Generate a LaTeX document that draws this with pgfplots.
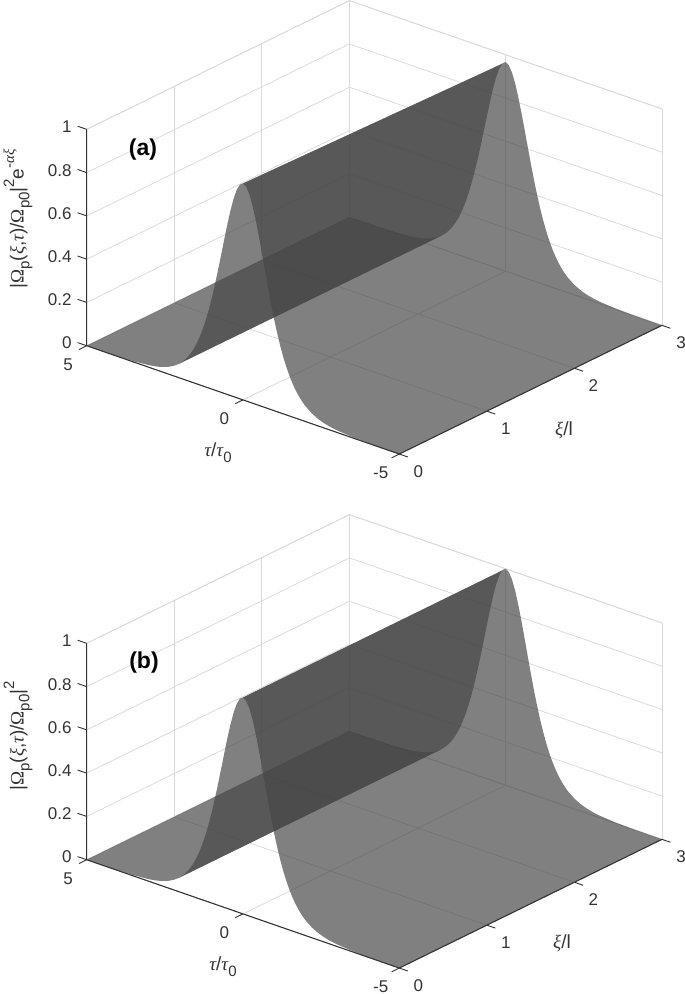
\documentclass[border=0pt]{standalone}
\usepackage{fontspec}
\setmainfont{Liberation Sans}
\newfontfamily\grk{Liberation Serif}
\usepackage{pgfplots}
\pgfplotsset{compat=1.18}
\definecolor{axdark}{gray}{0.2}
\definecolor{gridgr}{gray}{0.86}
\definecolor{surfgr}{gray}{0.274}
\newcommand{\gi}[1]{{\grk\itshape #1}}
\newcommand{\gr}[1]{{\grk #1}}
\newcommand{\dn}[1]{\raisebox{-0.3em}{\fontsize{15}{15}\selectfont #1}}
\newcommand{\up}[1]{\raisebox{0.5em}{\fontsize{15}{15}\selectfont #1}}
\newcommand{\lab}{\fontsize{19}{21}\selectfont}
\pgfplotsset{
  panel/.style={
    x dir=reverse,
    x={(31.26pt,-10.83pt)},y={(87.57pt,42.9pt)},z={(0pt,216.4pt)},
    xmin=-5,xmax=5,ymin=0,ymax=3,zmin=0,zmax=1,
    xtick={-5,0,5},xticklabels={-5,0,5},
    ytick={0,1,2,3},ztick={0,0.2,0.4,0.6,0.8,1},
    zticklabels={0,0.2,0.4,0.6,0.8,1},
    grid=major,major grid style={gridgr,line width=0.8pt},
    axis line style={gridgr,line width=0.8pt},
    tick style={draw=none},
    major tick length=9.5pt,tick align=outside,
    tick pos=left,
    ticklabel style={font=\fontsize{17}{19}\selectfont,text=axdark},
    xticklabel style={anchor=center,xshift=-10pt,yshift=-15pt},
    yticklabel style={anchor=center,xshift=10pt,yshift=-14.5pt},
    zticklabel style={xshift=-3pt,yshift=7.5pt},
    /pgf/number format/assume math mode=true,
    label style={font=\lab,text=axdark},
    clip=false,anchor=origin,
  },
  surfpart/.style={draw=none,fill=surfgr,fill opacity=0.685,no marks,forget plot},
  axline/.style={axdark,line width=1.05pt,no marks,forget plot},
  tickline/.style={axdark,line width=0.9pt,no marks,forget plot,unbounded coords=jump},
}
\begin{document}
\begin{tikzpicture}
\path[use as bounding box] (0pt,0pt) rectangle (685pt,994pt);
% panel (a)
\begin{axis}[panel,at={(243pt,594.1pt)},
  xlabel={\gi{τ}/\gi{τ}\dn{0}},
  ylabel={\gi{ξ}/l},
  zlabel={|\gr{Ω}\dn{p}(\gi{ξ},\gi{τ})/\gr{Ω}\dn{p0}|\up{2}e\up{-\gi{αξ}}},
  xlabel style={at={(axis cs:0,0,0)},anchor=center,xshift=-25pt,yshift=-53pt},
  ylabel style={at={(axis cs:0,0,0)},anchor=center,xshift=321pt,yshift=-30pt},
  zlabel style={at={(axis cs:0,0,0)},anchor=center,xshift=181pt,yshift=225pt},
]
% floor side of the rising edge, up to the fold of the surface
\addplot3[surfpart] coordinates {
(5,0,.00018)(4,0,.00134)(3.5,0,.00364)(3,0,.00987)(2.8,0,.01468)(2.6,0,.02182)(2.4,0,.03238)(2.2,0,.04793)(2.06,0,.06288)
(2.06,3,.06074)(2.2,3,.0463)(2.4,3,.03128)(2.6,3,.02108)(2.8,3,.01418)(3,3,.00953)(3.5,3,.00352)(4,3,.00129)(5,3,.00017)};
% rising edge from the fold to the ridge
\addplot3[surfpart] coordinates {
(2.06,0,.06288)(2,0,.07065)(1.9,0,.08561)
(1.8,0,.10356)(1.7,0,.12501)(1.6,0,.15053)(1.5,0,.18071)(1.4,0,.21615)(1.3,0,.25743)(1.2,0,.30502)(1.1,0,.3592)(1,0,.41997)(.9,0,.48692)
(.8,0,.55905)(.7,0,.63474)(.6,0,.71158)(.5,0,.78645)(.4,0,.85564)(.3,0,.91514)(.2,0,.96104)(.1,0,.99007)(0,0,1)
(0,3,.966)(.1,3,.95641)(.2,3,.92836)(.3,3,.88403)(.4,3,.82655)(.5,3,.75971)(.6,3,.68739)(.7,3,.61316)(.8,3,.54004)(.9,3,.47036)(1,3,.40569)
(1.1,3,.34699)(1.2,3,.29465)(1.3,3,.24868)(1.4,3,.2088)(1.5,3,.17457)(1.6,3,.14541)(1.7,3,.12076)(1.8,3,.10004)(1.9,3,.0827)(2,3,.06825)(2.06,3,.06074)};
% falling edge
\addplot3[surfpart] coordinates {
(-5,0,.00018)(-4,0,.00134)(-3.5,0,.00364)(-3,0,.00987)(-2.8,0,.01468)(-2.6,0,.02182)(-2.4,0,.03238)(-2.2,0,.04793)(-2,0,.07065)(-1.9,0,.08561)
(-1.8,0,.10356)(-1.7,0,.12501)(-1.6,0,.15053)(-1.5,0,.18071)(-1.4,0,.21615)(-1.3,0,.25743)(-1.2,0,.30502)(-1.1,0,.3592)(-1,0,.41997)(-.9,0,.48692)
(-.8,0,.55905)(-.7,0,.63474)(-.6,0,.71158)(-.5,0,.78645)(-.4,0,.85564)(-.3,0,.91514)(-.2,0,.96104)(-.1,0,.99007)(0,0,1)
(0,3,.966)(-.1,3,.95641)(-.2,3,.92836)(-.3,3,.88403)(-.4,3,.82655)(-.5,3,.75971)(-.6,3,.68739)(-.7,3,.61316)(-.8,3,.54004)(-.9,3,.47036)(-1,3,.40569)
(-1.1,3,.34699)(-1.2,3,.29465)(-1.3,3,.24868)(-1.4,3,.2088)(-1.5,3,.17457)(-1.6,3,.14541)(-1.7,3,.12076)(-1.8,3,.10004)(-1.9,3,.0827)(-2,3,.06825)
(-2.2,3,.0463)(-2.4,3,.03128)(-2.6,3,.02108)(-2.8,3,.01418)(-3,3,.00953)(-3.5,3,.00352)(-4,3,.00129)(-5,3,.00017)};
\addplot3[axline] coordinates {(5,0,1)(5,0,0)(-5,0,0)(-5,3,0)};
% tick marks on the three dark axis lines
\addplot3[tickline] coordinates {
(5,0,0)(5.29,0,0)(nan,nan,nan)(5,0,.2)(5.29,0,.2)(nan,nan,nan)(5,0,.4)(5.29,0,.4)(nan,nan,nan)
(5,0,.6)(5.29,0,.6)(nan,nan,nan)(5,0,.8)(5.29,0,.8)(nan,nan,nan)(5,0,1)(5.29,0,1)(nan,nan,nan)
(5,0,0)(5,-.088,0)(nan,nan,nan)(0,0,0)(0,-.088,0)(nan,nan,nan)(-5,0,0)(-5,-.088,0)(nan,nan,nan)
(-5,0,0)(-5.27,0,0)(nan,nan,nan)(-5,1,0)(-5.27,1,0)(nan,nan,nan)(-5,2,0)(-5.27,2,0)(nan,nan,nan)(-5,3,0)(-5.27,3,0)};
\end{axis}
\node[font=\bfseries\fontsize{23}{25}\selectfont] at (143pt,844pt) {(a)};
% panel (b)
\begin{axis}[panel,at={(243pt,80.1pt)},
  xlabel={\gi{τ}/\gi{τ}\dn{0}},
  ylabel={\gi{ξ}/l},
  zlabel={|\gr{Ω}\dn{p}(\gi{ξ},\gi{τ})/\gr{Ω}\dn{p0}|\up{2}},
  xlabel style={at={(axis cs:0,0,0)},anchor=center,xshift=-20pt,yshift=-53pt},
  ylabel style={at={(axis cs:0,0,0)},anchor=center,xshift=319pt,yshift=-29pt},
  zlabel style={at={(axis cs:0,0,0)},anchor=center,xshift=178pt,yshift=225pt},
]
\addplot3[surfpart] coordinates {
(5,0,.00018)(4,0,.00134)(3.5,0,.00364)(3,0,.00987)(2.8,0,.01468)(2.6,0,.02182)(2.4,0,.03238)(2.2,0,.04793)(2.06,0,.06288)
(2.06,3,.06288)(2.2,3,.04793)(2.4,3,.03238)(2.6,3,.02182)(2.8,3,.01468)(3,3,.00987)(3.5,3,.00364)(4,3,.00134)(5,3,.00018)};
\addplot3[surfpart] coordinates {
(2.06,0,.06288)(2,0,.07065)(1.9,0,.08561)
(1.8,0,.10356)(1.7,0,.12501)(1.6,0,.15053)(1.5,0,.18071)(1.4,0,.21615)(1.3,0,.25743)(1.2,0,.30502)(1.1,0,.3592)(1,0,.41997)(.9,0,.48692)
(.8,0,.55905)(.7,0,.63474)(.6,0,.71158)(.5,0,.78645)(.4,0,.85564)(.3,0,.91514)(.2,0,.96104)(.1,0,.99007)(0,0,1)
(0,3,1)(.1,3,.99007)(.2,3,.96104)(.3,3,.91514)(.4,3,.85564)(.5,3,.78645)(.6,3,.71158)(.7,3,.63474)(.8,3,.55905)(.9,3,.48692)(1,3,.41997)
(1.1,3,.3592)(1.2,3,.30502)(1.3,3,.25743)(1.4,3,.21615)(1.5,3,.18071)(1.6,3,.15053)(1.7,3,.12501)(1.8,3,.10356)(1.9,3,.08561)(2,3,.07065)(2.06,3,.06288)};
\addplot3[surfpart] coordinates {
(-5,0,.00018)(-4,0,.00134)(-3.5,0,.00364)(-3,0,.00987)(-2.8,0,.01468)(-2.6,0,.02182)(-2.4,0,.03238)(-2.2,0,.04793)(-2,0,.07065)(-1.9,0,.08561)
(-1.8,0,.10356)(-1.7,0,.12501)(-1.6,0,.15053)(-1.5,0,.18071)(-1.4,0,.21615)(-1.3,0,.25743)(-1.2,0,.30502)(-1.1,0,.3592)(-1,0,.41997)(-.9,0,.48692)
(-.8,0,.55905)(-.7,0,.63474)(-.6,0,.71158)(-.5,0,.78645)(-.4,0,.85564)(-.3,0,.91514)(-.2,0,.96104)(-.1,0,.99007)(0,0,1)
(0,3,1)(-.1,3,.99007)(-.2,3,.96104)(-.3,3,.91514)(-.4,3,.85564)(-.5,3,.78645)(-.6,3,.71158)(-.7,3,.63474)(-.8,3,.55905)(-.9,3,.48692)(-1,3,.41997)
(-1.1,3,.3592)(-1.2,3,.30502)(-1.3,3,.25743)(-1.4,3,.21615)(-1.5,3,.18071)(-1.6,3,.15053)(-1.7,3,.12501)(-1.8,3,.10356)(-1.9,3,.08561)(-2,3,.07065)
(-2.2,3,.04793)(-2.4,3,.03238)(-2.6,3,.02182)(-2.8,3,.01468)(-3,3,.00987)(-3.5,3,.00364)(-4,3,.00134)(-5,3,.00018)};
\addplot3[axline] coordinates {(5,0,1)(5,0,0)(-5,0,0)(-5,3,0)};
\addplot3[tickline] coordinates {
(5,0,0)(5.29,0,0)(nan,nan,nan)(5,0,.2)(5.29,0,.2)(nan,nan,nan)(5,0,.4)(5.29,0,.4)(nan,nan,nan)
(5,0,.6)(5.29,0,.6)(nan,nan,nan)(5,0,.8)(5.29,0,.8)(nan,nan,nan)(5,0,1)(5.29,0,1)(nan,nan,nan)
(5,0,0)(5,-.088,0)(nan,nan,nan)(0,0,0)(0,-.088,0)(nan,nan,nan)(-5,0,0)(-5,-.088,0)(nan,nan,nan)
(-5,0,0)(-5.27,0,0)(nan,nan,nan)(-5,1,0)(-5.27,1,0)(nan,nan,nan)(-5,2,0)(-5.27,2,0)(nan,nan,nan)(-5,3,0)(-5.27,3,0)};
\end{axis}
\node[font=\bfseries\fontsize{23}{25}\selectfont] at (144pt,331pt) {(b)};
\end{tikzpicture}
\end{document}
